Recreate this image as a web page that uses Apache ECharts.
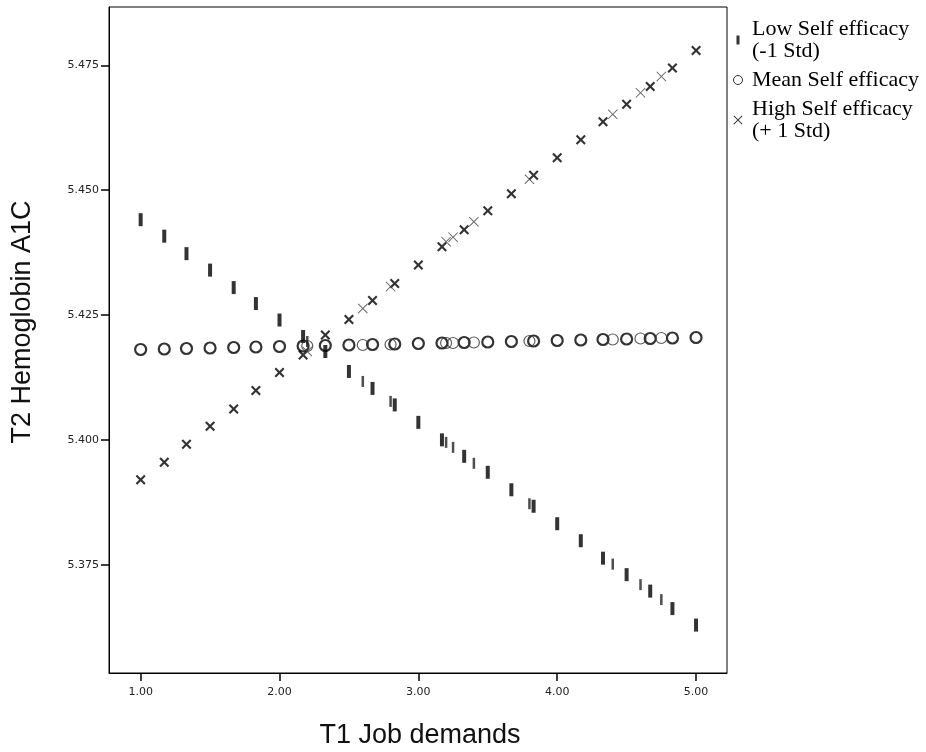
<!DOCTYPE html>
<html>
<head>
<meta charset="utf-8">
<script src="https://cdn.jsdelivr.net/npm/echarts@6.0.0/dist/echarts.min.js"></script>
<style>
html,body{margin:0;padding:0;background:#fff;}
#chart{width:926px;height:752px;}
</style>
</head>
<body>
<div id="chart"></div>
<script>
// Job demand values (most frequent values)
var jobDemandMain = [1.00,1.17,1.33,1.50,1.67,1.83,2.00,2.17,2.33,2.50,2.67,2.83,3.00,3.17,3.33,3.50,3.67,3.83,4.00,4.17,4.33,4.50,4.67,4.83,5.00];
var lowMain  = [5.4441,5.4408,5.4373,5.4340,5.4305,5.4273,5.4240,5.4207,5.4177,5.4137,5.4103,5.4070,5.4035,5.4000,5.3967,5.3935,5.3900,5.3867,5.3832,5.3798,5.3763,5.3730,5.3697,5.3662,5.3629];
var meanMain = [5.4181,5.4182,5.4183,5.4184,5.4185,5.4186,5.4187,5.4188,5.4189,5.4190,5.4191,5.4192,5.4193,5.4194,5.4195,5.4196,5.4197,5.4198,5.4199,5.4200,5.4201,5.4202,5.4203,5.4204,5.4205];
var highMain = [5.3920,5.3955,5.3991,5.4027,5.4062,5.4099,5.4135,5.4170,5.4210,5.4241,5.4279,5.4313,5.4350,5.4387,5.4421,5.4459,5.4493,5.4530,5.4565,5.4601,5.4637,5.4672,5.4708,5.4745,5.4780];

// Job demand values (rare values, drawn lighter)
var jobDemandRare = [2.20,2.60,2.80,3.20,3.25,3.40,3.80,4.40,4.60,4.75];
var lowRare  = [5.4197,5.4117,5.4077,5.3995,5.3985,5.3953,5.3872,5.3751,5.3710,5.3680];
var meanRare = [5.4188,5.4190,5.4191,5.4194,5.4194,5.4195,5.4198,5.4201,5.4203,5.4204];
var highRare = [5.4177,5.4263,5.4307,5.4397,5.4406,5.4437,5.4522,5.4652,5.4695,5.4728];

var xTicks = [1,2,3,4,5];
var yTicks = [5.375,5.400,5.425,5.450,5.475];

var seriesNames = ['Low Self efficacy\n(-1 Std)','Mean Self efficacy','High Self efficacy\n(+ 1 Std)'];
var xTitle = 'T1 Job demands';
var yTitle = 'T2 Hemoglobin A1C';

function pts(xs, ys){ return xs.map(function(x,i){ return [x, ys[i]]; }); }

var crossBold = 'path://M0,1.5L1.5,0L5,3.5L8.5,0L10,1.5L6.5,5L10,8.5L8.5,10L5,6.5L1.5,10L0,8.5L3.5,5Z';
var crossThin = 'path://M0,0.7L0.7,0L5,4.3L9.3,0L10,0.7L5.7,5L10,9.3L9.3,10L5,5.7L0.7,10L0,9.3L4.3,5Z';
var barIcon = 'path://M0,0L3,0L3,9L0,9Z';

var chart = echarts.init(document.getElementById('chart'), null, {renderer:'canvas'});
var tickFont = {fontFamily:'DejaVu Sans', fontSize:11, color:'#222'};
var option = {
  animation:false,
  backgroundColor:'#fff',
  grid:{left:109, top:7, right:199, bottom:79, show:true, borderColor:'#000', borderWidth:1, backgroundColor:'rgba(0,0,0,0)'},
  xAxis:{
    type:'value', min:0.772, max:5.223,
    axisLine:{show:true, lineStyle:{color:'#000', width:1}},
    axisTick:{show:true, customValues:xTicks, length:8, inside:false, lineStyle:{color:'#000', width:1.5}},
    axisLabel:Object.assign({customValues:xTicks, margin:14, formatter:function(v){return v.toFixed(2);}}, tickFont),
    splitLine:{show:false}
  },
  yAxis:{
    type:'value', min:5.3533, max:5.4867,
    axisLine:{show:true, lineStyle:{color:'#000', width:1}},
    axisTick:{show:true, customValues:yTicks, length:8, inside:false, lineStyle:{color:'#000', width:1.5}},
    axisLabel:Object.assign({customValues:yTicks, margin:10, formatter:function(v){return v.toFixed(3);}}, tickFont),
    splitLine:{show:false}
  },
  legend:{
    orient:'vertical', left:728, top:13, itemGap:7, itemWidth:16, itemHeight:9,
    selectedMode:false,
    textStyle:{fontFamily:'Liberation Serif', fontSize:22, color:'#000', lineHeight:22, padding:[0,0,0,1]},
    data:[
      {name:seriesNames[0], icon:barIcon, itemStyle:{color:'#000', borderWidth:0}},
      {name:seriesNames[1], icon:'circle', itemStyle:{color:'rgba(0,0,0,0)', borderColor:'#000', borderWidth:1}},
      {name:seriesNames[2], icon:crossThin, itemStyle:{color:'#000', borderWidth:0}}
    ]
  },
  graphic:[
    {type:'text', x:420, y:736, style:{text:xTitle, align:'center', verticalAlign:'middle', fontFamily:'Liberation Sans', fontSize:27, fill:'#111'}},
    {type:'text', x:23, y:322, rotation:Math.PI/2, style:{text:yTitle, align:'center', verticalAlign:'middle', fontFamily:'Liberation Sans', fontSize:27, fill:'#111'}}
  ],
  series:[
    {name:seriesNames[0], type:'scatter', data:pts(jobDemandMain, lowMain), symbol:'rect', symbolSize:[4,13], itemStyle:{color:'#000'}, emphasis:{disabled:true}},
    {name:seriesNames[1], type:'scatter', data:pts(jobDemandMain, meanMain), symbol:'circle', symbolSize:11, itemStyle:{color:'rgba(0,0,0,0)', borderColor:'#000', borderWidth:2.2}, emphasis:{disabled:true}},
    {name:seriesNames[2], type:'scatter', data:pts(jobDemandMain, highMain), symbol:crossBold, symbolSize:10, itemStyle:{color:'#000'}, emphasis:{disabled:true}},
    {name:'lowRare', type:'scatter', data:pts(jobDemandRare, lowRare), symbol:'rect', symbolSize:[2.5,11], itemStyle:{color:'#222'}, emphasis:{disabled:true}},
    {name:'meanRare', type:'scatter', data:pts(jobDemandRare, meanRare), symbol:'circle', symbolSize:11, itemStyle:{color:'rgba(0,0,0,0)', borderColor:'#333', borderWidth:1.2}, emphasis:{disabled:true}},
    {name:'highRare', type:'scatter', data:pts(jobDemandRare, highRare), symbol:crossThin, symbolSize:10, itemStyle:{color:'#444'}, emphasis:{disabled:true}}
  ]
};
chart.setOption(option);
</script>
</body>
</html>
